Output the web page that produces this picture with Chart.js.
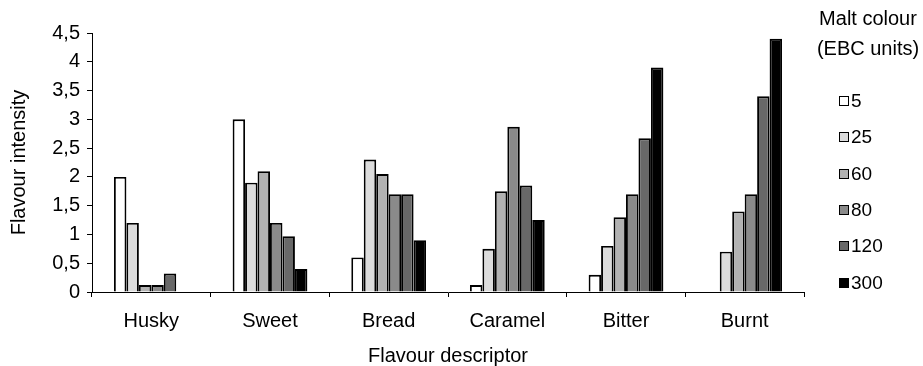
<!DOCTYPE html>
<html>
<head>
<meta charset="utf-8">
<script src="https://cdn.jsdelivr.net/npm/chart.js@4/dist/chart.umd.min.js"></script>
<style>
  html, body { margin: 0; padding: 0; background: #fff; }
  #wrap { width: 923px; height: 366px; position: relative; }
</style>
</head>
<body>
<div id="wrap"><canvas id="chart" width="923" height="366"></canvas></div>
<script>
// Flavour descriptors on the x axis
const categories = ['Husky', 'Sweet', 'Bread', 'Caramel', 'Bitter', 'Burnt'];
// Malt colour classes (EBC units)
const maltColours = ['5', '25', '60', '80', '120', '300'];
// Flavour intensity per malt colour, one value per descriptor
const ebc5   = [2.0, 3.0, 0.6, 0.12, 0.3, 0];
const ebc25  = [1.2, 1.9, 2.3, 0.75, 0.8, 0.7];
const ebc60  = [0.12, 2.1, 2.05, 1.75, 1.3, 1.4];
const ebc80  = [0.12, 1.2, 1.7, 2.87, 1.7, 1.7];
const ebc120 = [0.32, 0.97, 1.7, 1.85, 2.67, 3.4];
const ebc300 = [0, 0.4, 0.9, 1.25, 3.9, 4.4];
// Y axis tick values
const yTicks = [0, 0.5, 1, 1.5, 2, 2.5, 3, 3.5, 4, 4.5];

const seriesValues = [ebc5, ebc25, ebc60, ebc80, ebc120, ebc300];
const fills = ['#ffffff', '#dcdcdc', '#b2b2b2', '#8a8a8a', '#686868', '#000000'];
const FONT = 'Liberation Sans, Arial, sans-serif';

const legendPlugin = {
  id: 'maltLegend',
  afterDraw(chart) {
    const ctx = chart.ctx;
    ctx.save();
    ctx.fillStyle = '#000';
    ctx.textBaseline = 'middle';
    ctx.textAlign = 'center';
    ctx.font = '20px ' + FONT;
    ctx.fillText('Malt colour', 868, 19);
    ctx.fillText('(EBC units)', 868, 49);
    ctx.textAlign = 'left';
    ctx.font = '19px ' + FONT;
    const rowY = [101, 137, 174, 210, 246, 283];
    chart.data.datasets.forEach((ds, i) => {
      const y = rowY[i];
      ctx.fillStyle = ds.backgroundColor;
      ctx.fillRect(839, y - 5, 10, 10);
      ctx.strokeStyle = '#000';
      ctx.lineWidth = 1;
      ctx.strokeRect(839.5, y - 4.5, 9, 9);
      ctx.fillStyle = '#000';
      ctx.fillText(ds.label, 851, y + 1);
    });
    ctx.restore();
  }
};

new Chart(document.getElementById('chart'), {
  type: 'bar',
  data: {
    labels: categories,
    datasets: maltColours.map((name, i) => ({
      label: name,
      data: seriesValues[i],
      backgroundColor: fills[i],
      borderColor: '#000',
      borderWidth: 1.9,
      categoryPercentage: 0.63,
      barPercentage: 1
    }))
  },
  options: {
    responsive: false,
    animation: false,
    layout: { padding: { left: 0, right: 119, top: 33, bottom: 0 } },
    plugins: { legend: { display: false }, tooltip: { enabled: false } },
    scales: {
      x: {
        afterFit(scale) { scale.height = 74; },
        grid: { offset: true, drawOnChartArea: false, drawTicks: true, tickLength: 5, color: '#000' },
        border: { display: true, color: '#000', width: 1 },
        ticks: { color: '#000', padding: 12, font: { family: FONT, size: 20 } },
        title: { display: true, text: 'Flavour descriptor', color: '#000',
                 font: { family: FONT, size: 20, lineHeight: 1 }, padding: { top: 0, bottom: 0 } }
      },
      y: {
        min: yTicks[0],
        max: yTicks[yTicks.length - 1],
        afterFit(scale) { scale.width = 92; },
        afterBuildTicks(scale) { scale.ticks = yTicks.map(v => ({ value: v })); },
        grid: { drawOnChartArea: false, drawTicks: true, tickLength: 5, color: '#000' },
        border: { display: true, color: '#000', width: 1 },
        ticks: {
          color: '#000', padding: 7, font: { family: FONT, size: 20 },
          callback: v => String(v).replace('.', ',')
        },
        title: { display: true, text: 'Flavour intensity', color: '#000',
                 font: { family: FONT, size: 20, lineHeight: 1 }, padding: { top: 9, bottom: 0 } }
      }
    }
  },
  plugins: [legendPlugin]
});
</script>
</body>
</html>
